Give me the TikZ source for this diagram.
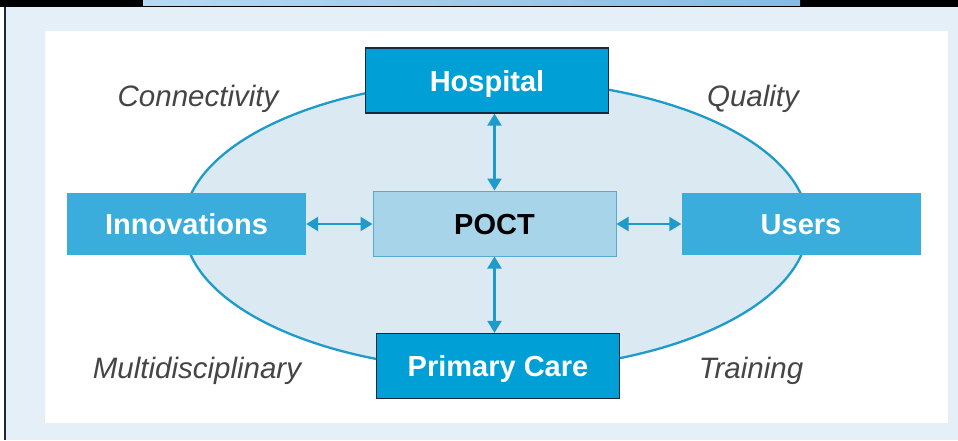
\documentclass[tikz,border=0pt]{standalone}
\usepackage{fontspec}
\setmainfont{Liberation Sans}
\usetikzlibrary{arrows.meta}
\definecolor{panelblue}{HTML}{E4EFF7}
\definecolor{ovalfill}{HTML}{DAE9F2}
\definecolor{ovalline}{HTML}{1E9BCB}
\definecolor{boxblue}{HTML}{00A0D6}
\definecolor{sideblue}{HTML}{3AADDC}
\definecolor{coreblue}{HTML}{A8D4EA}
\definecolor{coreline}{HTML}{55ABD5}
\definecolor{darkline}{HTML}{1B2A3A}
\definecolor{labelgray}{HTML}{454545}
\definecolor{stripblue}{HTML}{4E9FDB}

\begin{document}
\begin{tikzpicture}[x=1pt,y=-1pt]
                \tikzstyle{mainbox}=[rectangle,draw=darkline,line width=1.3pt,fill=boxblue,text=white,font=\fontsize{29}{31}\selectfont\bfseries,minimum width=243pt,minimum height=65pt,inner sep=0pt,text height=21pt,text depth=0pt]
                \tikzstyle{sidebox}=[rectangle,fill=sideblue,text=white,font=\fontsize{29}{31}\selectfont\bfseries,minimum width=239pt,minimum height=62pt,inner sep=0pt,text height=21pt,text depth=0pt]
                \tikzstyle{corebox}=[rectangle,draw=coreline,line width=1pt,fill=coreblue,text=black,font=\fontsize{29}{31}\selectfont\bfseries,minimum width=243pt,minimum height=65pt,inner sep=0pt,text height=21pt,text depth=0pt]
                \tikzstyle{aspect}=[text=labelgray,font=\fontsize{29.5}{31}\selectfont\itshape,inner sep=0pt,text height=21pt,text depth=0pt]
                \tikzstyle{link}=[draw=ovalline,line width=2.2pt,{Triangle[length=12pt,width=14pt]}-{Triangle[length=12pt,width=14pt]}]
                \useasboundingbox (0,0) rectangle (958,440);

                % frame of the page
                \fill[black] (0,0) rectangle (958,7);
                \shade[left color=stripblue!40, right color=stripblue!70] (143,0) rectangle (800,5);
                \fill[panelblue] (5,7) rectangle (958,440);
                \fill[white] (45,31) rectangle (948,423);
                \draw[darkline,line width=1.5pt] (5,7) -- (5,440);

                % oval behind the boxes
                \draw[draw=ovalline,fill=ovalfill,line width=2.3pt] (496,225) ellipse [x radius=312, y radius=145];

                \node[mainbox] (hosp) at (487,80.5) {Hospital};
                \node[mainbox] (prim) at (498,366) {Primary Care};
                \node[corebox] (poct) at (494.5,223.5) {POCT};
                \foreach \name/\txt/\x in {innov/Innovations/186.5, users/Users/801}
                        \node[sidebox] (\name) at (\x,224) {\txt};

                \foreach \name/\txt/\x/\y in {conn/Connectivity/198/96, qual/Quality/753/96, multi/Multidisciplinary/197/368, train/Training/751/368}
                        \node[aspect] (\name) at (\x,\y) {\txt};

                \draw[link] (poct.north) -- (poct.north |- hosp.south);
                \draw[link] (poct.south) -- (poct.south |- prim.north);
                \draw[link] (innov.east) -- (poct.west |- innov.east);
                \draw[link] (users.west) -- (poct.east |- users.west);
\end{tikzpicture}
\end{document}
